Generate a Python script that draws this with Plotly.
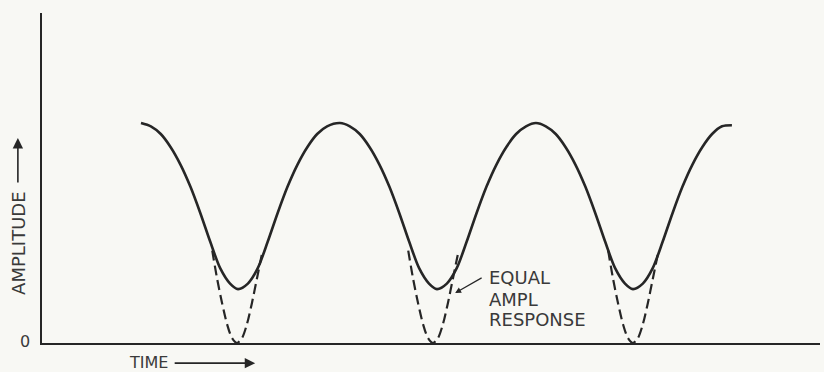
import plotly.graph_objects as go

# Envelope of the received signal (time in half-periods, amplitude normalised to the peak)
envelope_time = [
    1.00, 1.10, 1.20, 1.30, 1.40, 1.50, 1.60, 1.70, 1.80, 1.90, 1.98,
    2.08, 2.18, 2.28, 2.38, 2.48, 2.58, 2.68, 2.78, 2.88, 3.01,
    3.11, 3.21, 3.31, 3.41, 3.51, 3.61, 3.71, 3.81, 3.91, 3.99,
    4.09, 4.19, 4.29, 4.39, 4.49, 4.59, 4.69, 4.79, 4.89, 4.99,
    5.09, 5.19, 5.29, 5.39, 5.49, 5.59, 5.69, 5.79, 5.89, 5.97,
    6.07, 6.17, 6.27, 6.37, 6.47, 6.57, 6.67, 6.77, 6.87, 6.97,
]
envelope_amp = [
    1.00, 0.985, 0.95, 0.89, 0.81, 0.71, 0.59, 0.46, 0.34, 0.27, 0.245,
    0.27, 0.34, 0.46, 0.59, 0.71, 0.81, 0.89, 0.95, 0.985, 1.00,
    0.985, 0.95, 0.89, 0.81, 0.71, 0.59, 0.46, 0.34, 0.27, 0.245,
    0.27, 0.34, 0.46, 0.59, 0.71, 0.81, 0.89, 0.95, 0.985, 1.00,
    0.985, 0.95, 0.89, 0.81, 0.71, 0.59, 0.46, 0.34, 0.27, 0.245,
    0.27, 0.34, 0.46, 0.59, 0.71, 0.81, 0.89, 0.95, 0.985, 0.99,
]

# Equal-amplitude response: the envelope dips to zero at each minimum
dip1_time = [1.72, 1.77, 1.82, 1.87, 1.92, 1.97, 2.02, 2.07, 2.12, 2.17, 2.22]
dip2_time = [3.70, 3.75, 3.80, 3.85, 3.90, 3.95, 4.00, 4.05, 4.10, 4.15, 4.20]
dip3_time = [5.72, 5.77, 5.82, 5.87, 5.92, 5.97, 6.02, 6.07, 6.12, 6.17, 6.22]
dip_amp = [0.42, 0.29, 0.18, 0.085, 0.022, 0.0, 0.022, 0.085, 0.18, 0.29, 0.40]

INK = "#262626"
TEXT = "#3a3a3a"
PAPER = "#f8f8f4"
FONT = "DejaVu Sans"

fig = go.Figure()

fig.add_trace(go.Scatter(
    x=envelope_time, y=envelope_amp, mode="lines",
    line=dict(color=INK, width=2.6, shape="spline", smoothing=0.8),
    hoverinfo="skip", showlegend=False,
))

for dip_time in (dip1_time, dip2_time, dip3_time):
    fig.add_trace(go.Scatter(
        x=dip_time, y=dip_amp, mode="lines",
        line=dict(color=INK, width=2.2, shape="spline", smoothing=0.8,
                  dash="10px,5px"),
        hoverinfo="skip", showlegend=False,
    ))


def label(x, y, text, size, xanchor="center", angle=0):
    return dict(x=x, y=y, xref="paper", yref="paper", text=text,
                xanchor=xanchor, yanchor="middle", textangle=angle,
                showarrow=False, font=dict(size=size, color=TEXT, family=FONT))


def arrow(x, y, ax, ay, width=1.6, size=1.3):
    return dict(x=x, y=y, xref="paper", yref="paper", text="",
                showarrow=True, ax=ax, ay=ay, arrowhead=2, arrowsize=size,
                arrowwidth=width, arrowcolor=INK, standoff=0)


annotations = [
    label(-0.022, 0.006, "0", 16),
    label(-0.031, 0.303, "AMPLITUDE", 18, angle=-90),
    arrow(-0.031, 0.621, 0, 46),
    label(0.1375, -0.058, "TIME", 16),
    arrow(0.274, -0.061, -82, 0),
    arrow(0.531, 0.1515, 28, -16, width=1.2, size=1.0),
    label(0.572, 0.197, "EQUAL", 18, xanchor="left"),
    label(0.572, 0.133, "AMPL", 18, xanchor="left"),
    label(0.572, 0.0697, "RESPONSE", 18, xanchor="left"),
]

axis_common = dict(
    showgrid=False, zeroline=False, showticklabels=False, ticks="",
    showline=True, linecolor=INK, linewidth=2, fixedrange=True,
)

fig.update_layout(
    width=824, height=372,
    margin=dict(l=42, r=4, t=13, b=29),
    paper_bgcolor=PAPER, plot_bgcolor=PAPER,
    xaxis=dict(range=[0, 7.86], **axis_common),
    yaxis=dict(range=[0, 1.5], **axis_common),
    annotations=annotations,
    showlegend=False,
)

fig.write_html("out.html")
